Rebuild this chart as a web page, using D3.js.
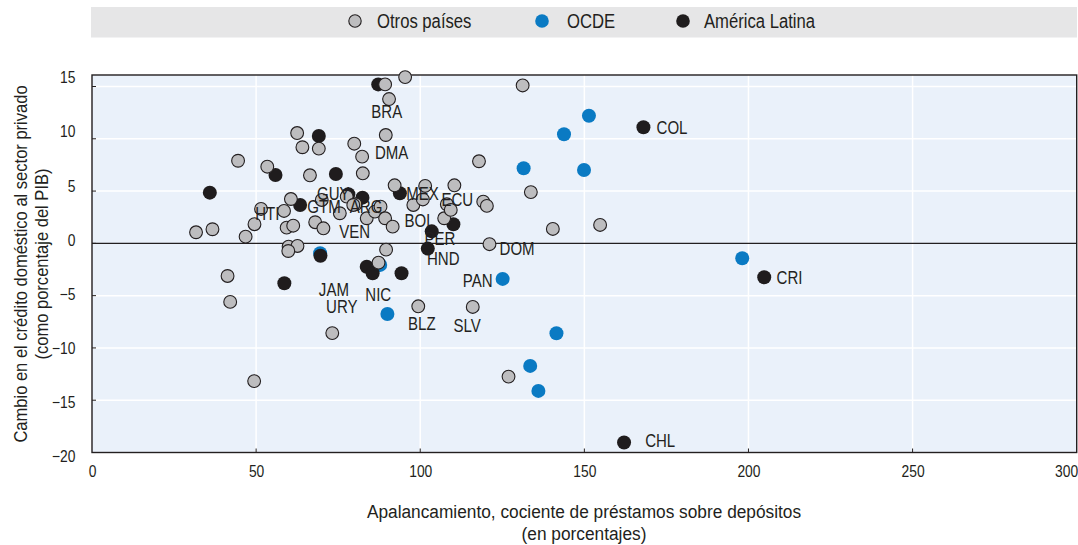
<!DOCTYPE html>
<html>
<head>
<meta charset="utf-8">
<script src="https://cdn.jsdelivr.net/npm/d3@7"></script>
<style>
  html, body { margin: 0; padding: 0; background: #fff; }
  svg text { font-family: "Liberation Sans", Arial, sans-serif; fill: #231F20; }
</style>
</head>
<body>
<svg id="chart" width="1078" height="545"></svg>
<script>
// ---- Data ----
const seriesNames = ["Otros países", "OCDE", "América Latina"];

const otrosX = [95.4, 89.3, 90.5, 131.2, 62.5, 89.5, 64.1, 69.1, 79.9, 82.3, 44.5, 53.4, 66.4, 82.5, 92.2, 101.5, 97.9, 100.8,
  31.7, 36.7, 46.8, 49.5, 51.5, 58.5, 60.6, 59.3, 61.3, 59.9, 62.6, 59.8, 41.3, 68.0, 70.5, 70.0, 77.6, 75.5, 80.3, 83.7,
  86.2, 87.9, 89.3, 91.6, 89.6, 87.3, 107.3, 108.1, 110.4, 109.3, 119.2, 120.3, 121.1, 117.9, 133.7, 140.4, 154.8, 99.4,
  116.0, 73.2, 126.9, 42.1, 49.4, 79.6];
const otrosY = [15.9, 15.2, 13.8, 15.1, 10.55, 10.36, 9.19, 9.06, 9.53, 8.29, 7.9, 7.33, 6.51, 6.70, 5.55, 5.49, 3.67, 4.2,
  1.06, 1.35, 0.64, 1.83, 3.29, 3.10, 4.24, 1.50, 1.69, -0.31, -0.25, -0.73, -3.12, 2.02, 1.44, 4.15, 4.47, 2.88, 3.74, 2.40,
  3.03, 3.51, 2.40, 1.60, -0.6, -1.85, 2.40, 3.74, 5.55, 3.2, 3.99, 3.58, -0.08, 7.85, 4.9, 1.38, 1.76, -6.02,
  -6.08, -8.58, -12.74, -5.6, -13.17, 3.67];

const ocdeX = [151.4, 143.8, 131.5, 149.9, 198.1, 125.1, 141.5, 133.5, 136.0, 90.0, 69.5, 87.8];
const ocdeY = [12.2, 10.43, 7.18, 7.02, -1.43, -3.40, -8.6, -11.72, -14.11, -6.75, -0.95, -2.06];

const latamX = [87.2, 69.1, 55.9, 74.3, 35.9, 93.8, 63.4, 78.1, 82.4, 103.5, 102.3, 110.1, 69.6, 83.7, 85.5, 94.3, 58.6, 168.0, 204.8, 162.1];
const latamY = [15.2, 10.27, 6.54, 6.63, 4.85, 4.79, 3.67, 4.69, 4.37, 1.15, -0.5, 1.83, -1.18, -2.23, -2.86, -2.86, -3.82, 11.1, -3.24, -19.05];

// Country labels, placed in data units
const labelText = ["BRA", "DMA", "GUY", "HTI", "GTM", "ARG", "VEN", "MEX", "ECU", "BOL", "PER", "HND", "DOM", "PAN", "JAM", "URY", "NIC", "BLZ", "SLV", "CHL", "COL", "CRI"];
const labelX = [89.8, 91.3, 73.5, 53.4, 70.7, 83.5, 80.0, 100.7, 111.3, 99.8, 106.0, 107.0, 129.5, 117.5, 73.7, 76.1, 87.2, 100.5, 114.3, 173.1, 176.7, 212.5];
const labelY = [12.6, 8.71, 4.79, 2.81, 3.49, 3.49, 1.12, 4.79, 4.22, 2.17, 0.49, -1.42, -0.47, -3.6, -4.39, -6.05, -4.93, -7.64, -7.87, -18.86, 11.1, -3.24];

const xTicks = [0, 50, 100, 150, 200, 250, 300];
const yTicks = [-20, -15, -10, -5, 0, 5, 10, 15];

const xTitle = ["Apalancamiento, cociente de préstamos sobre depósitos", "(en porcentajes)"];
const yTitle = ["Cambio en el crédito doméstico al sector privado", "(como porcentaje del PIB)"];

// ---- Drawing ----
const svg = d3.select("#chart");
const pLeft = 92, pRight = 1076.7, pTop = 75, pBottom = 452.5;
const SX = 0.84; // condensed look of the reference typeface

const x = d3.scaleLinear().domain([0, 300]).range([pLeft, pRight]);
const y = d3.scaleLinear().domain([-20, 16.1]).range([pBottom, pTop]);
// tick labels in the reference sit on a slightly different spacing than the grid
const yLab = d3.scaleLinear().domain([-20, 15]).range([456.5, 77.5]);

const colors = { grey: "#BDBDBF", blue: "#0A7AC3", black: "#1F1C1D", stroke: "#231F20" };

// helper: condense a text selection around its anchor point
function narrow(sel, extra, sx) {
  const s = sx || SX;
  sel.each(function () {
    const t = d3.select(this);
    const tx = +t.attr("x") || 0, ty = +t.attr("y") || 0;
    t.attr("x", 0).attr("y", 0)
      .attr("transform", `translate(${tx},${ty})${extra || ""} scale(${s},1)`);
  });
}

// Legend band
svg.append("rect").attr("x", 91).attr("y", 7).attr("width", 986).attr("height", 30.5).attr("fill", "#E6E6E7");
const legendItems = [
  { name: seriesNames[0], cx: 355, tx: 377, fill: colors.grey, stroke: colors.stroke },
  { name: seriesNames[1], cx: 542, tx: 567, fill: colors.blue, stroke: "none" },
  { name: seriesNames[2], cx: 683, tx: 704, fill: colors.black, stroke: "none" }
];
const lg = svg.append("g");
lg.selectAll("circle").data(legendItems).join("circle")
  .attr("cx", d => d.cx).attr("cy", 21).attr("r", d => d.stroke === "none" ? 6.8 : 6.2)
  .attr("fill", d => d.fill).attr("stroke", d => d.stroke).attr("stroke-width", 1.1);
lg.selectAll("text").data(legendItems).join("text")
  .attr("x", d => d.tx).attr("y", 21).attr("dy", "0.35em")
  .attr("font-size", 19.5).text(d => d.name).call(narrow, "", 0.855);

// Plot background
svg.append("rect").attr("x", pLeft).attr("y", pTop).attr("width", pRight - pLeft).attr("height", pBottom - pTop).attr("fill", "#EAF1FA");

// Gridlines
const grid = svg.append("g");
grid.selectAll("line.gx").data(xTicks.filter(t => t > 0 && t < 300)).join("line")
  .attr("x1", d => x(d)).attr("x2", d => x(d)).attr("y1", pTop).attr("y2", pBottom)
  .attr("stroke", "#fff").attr("stroke-width", 1.5);
grid.selectAll("line.gy").data(yTicks.filter(t => t > -20 && t !== 0)).join("line")
  .attr("x1", pLeft).attr("x2", pRight).attr("y1", d => y(d)).attr("y2", d => y(d))
  .attr("stroke", "#fff").attr("stroke-width", 1.5);

// Zero line
svg.append("line").attr("x1", pLeft).attr("x2", pRight).attr("y1", y(0)).attr("y2", y(0))
  .attr("stroke", "#231F20").attr("stroke-width", 1.2);

// Small inner ticks
const tk = svg.append("g").attr("stroke", "#231F20").attr("stroke-width", 1);
tk.selectAll("line.ty").data(yTicks.filter(t => t > -20)).join("line")
  .attr("x1", pLeft).attr("x2", pLeft + 4).attr("y1", d => y(d)).attr("y2", d => y(d));
tk.selectAll("line.tx").data(xTicks.filter(t => t > 0 && t < 300)).join("line")
  .attr("x1", d => x(d)).attr("x2", d => x(d)).attr("y1", pBottom).attr("y2", pBottom - 4);

// Frame
svg.append("rect").attr("x", pLeft).attr("y", pTop).attr("width", pRight - pLeft).attr("height", pBottom - pTop)
  .attr("fill", "none").attr("stroke", "#231F20").attr("stroke-width", 1.4);

// Axes tick labels via d3 axes
const xAxis = d3.axisBottom(x).tickValues(xTicks).tickSize(0).tickPadding(0).tickFormat(d3.format("d"));
const gx = svg.append("g").attr("transform", `translate(0, 462)`).call(xAxis);
gx.select(".domain").remove();
gx.attr("font-family", null).attr("font-size", null);
gx.selectAll("text").attr("font-size", 16.5).attr("fill", "#231F20").attr("y", 9).attr("dy", "0.35em").call(narrow);
gx.selectAll(".tick").filter(d => d === 300).select("text").attr("text-anchor", "end")
  .attr("transform", `translate(1,9) scale(${SX},1)`);

const yAxis = d3.axisLeft(yLab).tickValues(yTicks).tickSize(0).tickPadding(0).tickFormat(d3.format("d"));
const gy = svg.append("g").attr("transform", `translate(75.5, 0)`).call(yAxis);
gy.select(".domain").remove();
gy.attr("font-family", null).attr("font-size", null);
gy.selectAll("text").attr("font-size", 16.5).attr("fill", "#231F20").call(narrow);

// Axis titles
svg.append("g").selectAll("text").data(xTitle).join("text")
  .attr("x", 584).attr("y", (d, i) => 511 + i * 22).attr("dy", "0.35em")
  .attr("text-anchor", "middle").attr("font-size", 19).text(d => d).call(narrow, "", 0.91);
svg.append("g").selectAll("text").data(yTitle).join("text")
  .attr("x", (d, i) => 20 + i * 21).attr("y", 264)
  .attr("dy", "0.35em").attr("text-anchor", "middle").attr("font-size", 19).text(d => d)
  .call(narrow, " rotate(-90)", 0.87);

// Markers
const toPts = (xs, ys) => xs.map((v, i) => ({ x: v, y: ys[i] }));
svg.append("g").selectAll("circle").data(toPts(ocdeX, ocdeY)).join("circle")
  .attr("cx", d => x(d.x)).attr("cy", d => y(d.y)).attr("r", 7).attr("fill", colors.blue);
svg.append("g").selectAll("circle").data(toPts(latamX, latamY)).join("circle")
  .attr("cx", d => x(d.x)).attr("cy", d => y(d.y)).attr("r", 7).attr("fill", colors.black);
svg.append("g").selectAll("circle").data(toPts(otrosX, otrosY)).join("circle")
  .attr("cx", d => x(d.x)).attr("cy", d => y(d.y)).attr("r", 6.4)
  .attr("fill", colors.grey).attr("stroke", colors.stroke).attr("stroke-width", 1.1);

// Country labels (drawn over the markers, as in the reference)
const labels = labelText.map((t, i) => ({ t, x: labelX[i], y: labelY[i] }));
svg.append("g").selectAll("text").data(labels).join("text")
  .attr("x", d => x(d.x)).attr("y", d => y(d.y)).attr("dy", "0.36em")
  .attr("text-anchor", "middle").attr("font-size", 17.5).attr("fill", "#333132").text(d => d.t).call(narrow, "", 0.86);
</script>
</body>
</html>
